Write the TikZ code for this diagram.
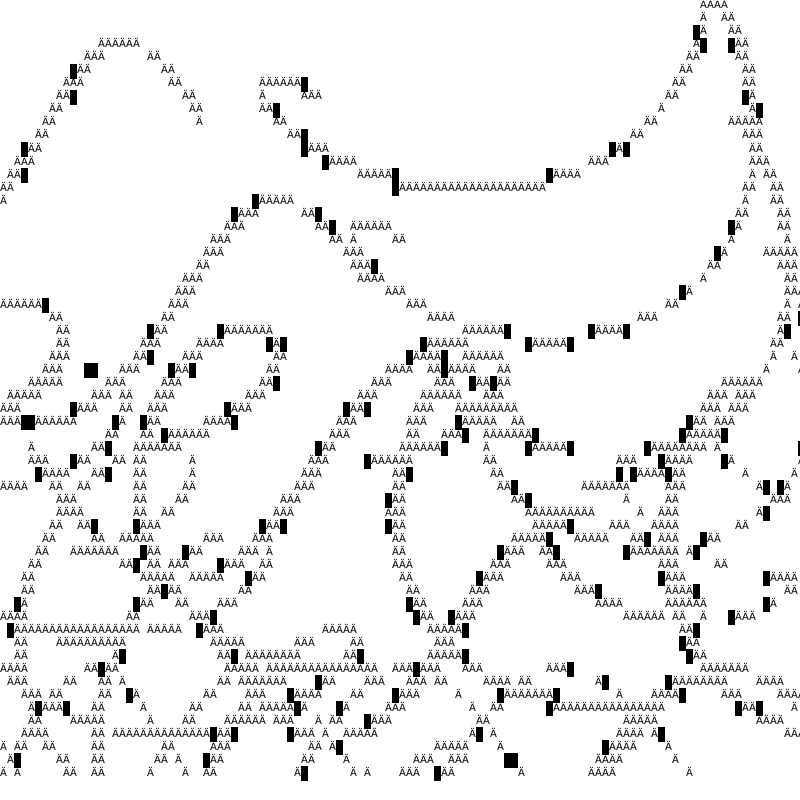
\documentclass[tikz,border=0pt]{standalone}
\usepackage{fontspec}
\setmainfont{DejaVu Sans}
\usepackage{tikz}
\tikzstyle{CellRun}=[anchor=base west,inner sep=0pt,outer sep=0pt,
font=\fontsize{10}{13}\selectfont]
\newcommand\CellBlock{\rule[-5pt]{7pt}{15pt}}
\def\CellLoop#1{\ifx#1\relax\else\makebox[7pt]{\if A#1Ä\fi\if X#1\CellBlock\fi}\expandafter\CellLoop\fi}
\newcommand\CellRow[1]{\expandafter\CellLoop#1\relax}

\begin{document}
\begin{tikzpicture}[x=7pt,y=-13pt]
  \useasboundingbox (0,0) rectangle (114.2857,61.5385);
  % row/column/run: A = letter, X = block, o = blank
  \foreach \rw/\cl/\seg in {
    0/100/AAAA,
    1/100/AooAA,
    2/99/XAoooAA,
    3/14/AAAAAA, 3/99/AXoooXAA,
    4/12/AAA, 4/21/AA, 4/98/AAoooooAA,
    5/10/XAA, 5/23/AA, 5/97/AAoooooooAA,
    6/9/AAA, 6/24/AA, 6/37/AAAAAAX, 6/96/AAooooooooAA,
    7/8/AAX, 7/26/AA, 7/37/AoooooAAA, 7/95/AAoooooooooXA,
    8/7/AA, 8/27/AA, 8/37/AAX, 8/94/AooooooooooooAX,
    9/6/AA, 9/28/A, 9/39/AA, 9/92/AA, 9/104/AAAAA,
    10/5/AA, 10/41/AAX, 10/90/AA, 10/106/AAA,
    11/3/XAA, 11/43/XAAA, 11/87/XAX, 11/107/AA,
    12/2/AAA, 12/46/XAAAA, 12/84/AAA, 12/107/AAA,
    13/1/AAX, 13/51/AAAAAX, 13/78/XAAAA, 13/107/AoAA,
    14/0/AA, 14/56/XAAAAAAAAAAAAAAAAAAAAA, 14/106/AAooAA,
    15/0/A, 15/36/XAAAAA, 15/106/AoooAA,
    16/33/XAAA, 16/43/AAX, 16/105/AAooooAA,
    17/32/AAA, 17/45/AAX, 17/50/AAAAAA, 17/104/XAoooooAA,
    18/30/AAA, 18/47/AA, 18/50/A, 18/56/AA, 18/104/AoooooooA,
    19/29/AAA, 19/49/AAA, 19/102/XA, 19/109/AAAAA,
    20/28/AA, 20/50/AAAX, 20/101/AA, 20/111/AAA,
    21/26/AAA, 21/51/AAAA, 21/100/A, 21/112/AA,
    22/25/AAA, 22/55/AAA, 22/97/XA, 22/112/AAA,
    23/0/AAAAAAX, 23/24/AAA, 23/58/AAA, 23/95/AA, 23/112/AoA,
    24/7/AA, 24/23/AA, 24/61/AAAA, 24/91/AAA, 24/111/AAoX,
    25/8/AA, 25/21/XAA, 25/31/XAAAAAAA, 25/66/AAAAAAX, 25/84/XAAAAX, 25/111/AX,
    26/8/AA, 26/20/AAA, 26/28/AAAA, 26/38/XAX, 26/60/XAAAAAA, 26/75/XAAAAAX, 26/110/AA,
    27/7/AAA, 27/19/AAX, 27/26/AAA, 27/39/AA, 27/58/XAAAAX, 27/66/AAAAAA, 27/110/AooA,
    28/6/AAA, 28/12/XX, 28/17/AAA, 28/24/XAAX, 28/38/AA, 28/55/AAAA, 28/61/AAXAAAA, 28/71/AA, 28/109/AooooA,
    29/4/AAAAA, 29/15/AAA, 29/23/AAA, 29/37/AAX, 29/53/AAA, 29/62/AAAooXAAXAA, 29/103/AAAAAA,
    30/1/AAAAA, 30/13/AAA, 30/17/AA, 30/22/AAA, 30/35/AAA, 30/51/AAA, 30/60/AAAAAA, 30/69/AAA, 30/101/AAAoAAA,
    31/0/AAA, 31/10/XAAA, 31/17/AA, 31/21/AAA, 31/32/XAAA, 31/49/XAAX, 31/59/AAA, 31/65/AAAAAAAAA, 31/100/AAAoAAA,
    32/0/AAAXXAAAAAA, 32/16/XA, 32/20/XAA, 32/29/AAAAX, 32/48/AAA, 32/58/AAA, 32/65/XAAAAA, 32/73/AA, 32/98/XAAoAAA,
    33/15/AA, 33/20/AA, 33/23/XAAAAAA, 33/47/AAA, 33/58/AA, 33/63/AAAX, 33/69/AAAAAAAX, 33/97/XAAAAAX,
    34/4/A, 34/13/AAX, 34/19/AAAAAAA, 34/45/XAA, 34/57/AAAAAAX, 34/69/A, 34/75/XAAAAAX, 34/92/XAAAAAAAAoA, 34/114/X,
    35/4/AAA, 35/10/XAA, 35/16/AA, 35/19/AA, 35/27/A, 35/44/AAA, 35/52/XAAAAAA, 35/69/AA, 35/88/AAA, 35/94/XAAAA, 35/103/XA, 35/114/A,
    36/5/XAAAA, 36/13/AAX, 36/19/AA, 36/27/A, 36/43/AAA, 36/56/AAX, 36/70/AA, 36/88/XoXAAAAXAA, 36/106/A, 36/113/A,
    37/0/AAAA, 37/7/AA, 37/11/AA, 37/19/AA, 37/26/AA, 37/42/AAA, 37/56/AA, 37/71/AAX, 37/83/AAAAAAA, 37/95/AAA, 37/108/AXoXA,
    38/8/AAA, 38/19/AA, 38/25/AA, 38/40/AAA, 38/55/XAA, 38/73/AAX, 38/89/A, 38/95/AA, 38/110/AAA,
    39/8/AAAA, 39/19/AA, 39/23/AA, 39/39/AAA, 39/55/AAA, 39/75/AAAAAAAAAA, 39/91/A, 39/94/AAA, 39/108/AX,
    40/7/AA, 40/11/AAX, 40/19/XAAA, 40/37/XAAX, 40/55/XAA, 40/76/AAAAAX, 40/87/AAA, 40/93/AAAA, 40/105/AA,
    41/6/AA, 41/13/AA, 41/17/AAAAA, 41/29/AAA, 41/36/AAA, 41/56/AA, 41/73/AAAAAX, 41/82/AAAAA, 41/90/AAX, 41/94/AAA, 41/100/XAA,
    42/5/AA, 42/10/AAAAAAA, 42/20/XAA, 42/26/XAA, 42/34/AAAoA, 42/56/AA, 42/71/XAAA, 42/77/AAX, 42/89/XAAAAAAA, 42/98/AX,
    43/4/AA, 43/17/AAX, 43/21/AA, 43/24/AAA, 43/31/XAAA, 43/37/AA, 43/56/AAA, 43/70/AAA, 43/78/AAA, 43/94/AAA, 43/102/AA,
    44/3/AA, 44/20/AAAAA, 44/27/AAAAA, 44/35/XAA, 44/57/AA, 44/68/XAAA, 44/80/AAA, 44/94/XAAA, 44/109/XAAAA,
    45/3/AA, 45/21/AAXAA, 45/34/AA, 45/58/AA, 45/67/AAA, 45/82/AAAX, 45/95/AAAAX, 45/112/AA,
    46/2/XA, 46/19/XAA, 46/25/AA, 46/31/AAA, 46/58/XAA, 46/66/AAA, 46/85/AAAA, 46/95/AAAAAA, 46/109/XA,
    47/0/AAAA, 47/18/AA, 47/27/AAAX, 47/59/XAA, 47/64/XAAA, 47/89/AAAAAA, 47/96/AA, 47/100/A, 47/104/XAAA,
    48/1/XAAAAAAAAAAAAAAAAAA, 48/21/AAAAA, 48/28/XAAA, 48/46/AAAAA, 48/61/AAAAAX, 48/97/AAX,
    49/2/AA, 49/8/AAAAAAAAAA, 49/30/AAAAA, 49/42/AAA, 49/50/AA, 49/62/AAA, 49/97/XAA,
    50/2/AA, 50/16/AX, 50/31/AAX, 50/35/AAAAAAAA, 50/49/AAX, 50/61/AAAAAX, 50/98/XAA,
    51/0/AAAA, 51/12/AAXAA, 51/32/AAAAA, 51/38/AAAAAAAAAAAAAAAA, 51/56/AAAXAAA, 51/66/AAA, 51/78/AAAX, 51/100/AAAAAAA,
    52/1/AAA, 52/9/AA, 52/14/AA, 52/17/A, 52/31/AA, 52/34/AAAAAAA, 52/45/XAA, 52/52/AAA, 52/58/AAA, 52/62/AA, 52/69/AAAA, 52/74/AA, 52/85/AX, 52/95/XAAAAAAAA, 52/108/AAAA,
    53/3/AAA, 53/7/AA, 53/14/AA, 53/18/XA, 53/29/AA, 53/35/AAA, 53/41/XAAAA, 53/50/AA, 53/56/XAAA, 53/65/A, 53/71/XAAAAAAAX, 53/88/A, 53/93/AAAAX, 53/103/AAA, 53/111/AAAA,
    54/4/AXAAAX, 54/13/AA, 54/20/A, 54/27/AA, 54/34/AA, 54/37/AAAAAXA, 54/48/XA, 54/55/AAA, 54/67/A, 54/70/AA, 54/78/XAAAAAAAAAAAAAAAA, 54/105/XAAX, 54/113/A,
    55/4/AA, 55/10/AAAAA, 55/21/A, 55/26/AA, 55/32/AAAAAA, 55/39/AAA, 55/45/A, 55/47/AA, 55/52/XAAA, 55/68/AA, 55/89/AAAAA, 55/108/AAAA,
    56/3/AAAA, 56/13/AA, 56/16/AAAAAAAAAAAAAAXAAX, 56/41/XAAA, 56/46/A, 56/49/AAAAA, 56/67/AXoA, 56/88/AAAA, 56/93/AX, 56/112/AAA,
    57/0/A, 57/2/AA, 57/6/AA, 57/13/AA, 57/23/AA, 57/30/AAA, 57/44/AA, 57/47/AX, 57/62/AAAAA, 57/71/A, 57/86/XAAAA, 57/95/A,
    58/1/AX, 58/8/AA, 58/13/AA, 58/22/AA, 58/25/A, 58/29/XAA, 58/43/AA, 58/49/A, 58/59/AAA, 58/64/AAA, 58/72/XX, 58/85/AAAA, 58/96/A,
    59/0/A, 59/2/A, 59/9/AA, 59/13/AA, 59/21/A, 59/26/A, 59/29/AA, 59/42/AX, 59/50/A, 59/52/A, 59/57/AAA, 59/62/XAA, 59/74/A, 59/84/AAAA, 59/98/A}
    \node[CellRun] (r\rw-\cl) at (\cl,\rw+0.6923) {\CellRow{\seg}};
\end{tikzpicture}
\end{document}
